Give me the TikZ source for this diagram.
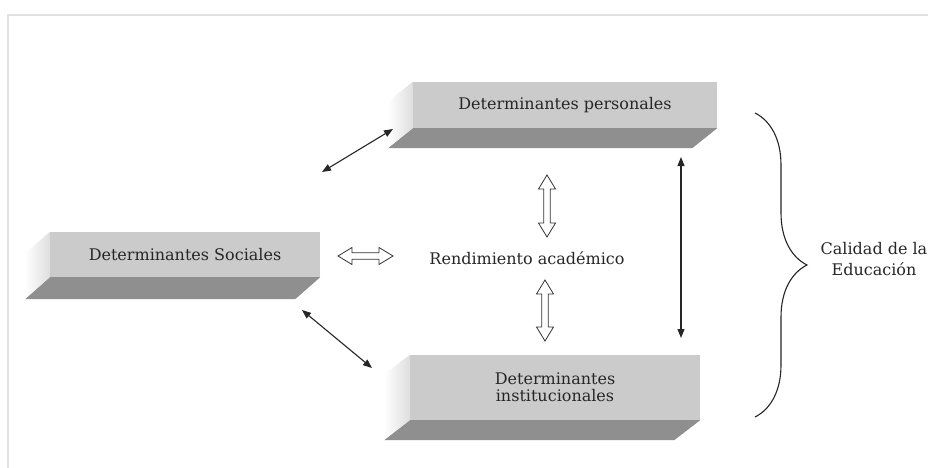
\documentclass[tikz,border=0pt]{standalone}
\usepackage{fontspec}
\setmainfont{DejaVu Serif}
\usetikzlibrary{calc,arrows.meta,decorations.pathreplacing}
\definecolor{txt}{HTML}{262626}
\definecolor{frontc}{HTML}{CBCBCB}
\definecolor{bottomc}{HTML}{8F8F8F}
\definecolor{framec}{HTML}{E2E2E2}
\newcommand\drawslab[3]{%
  \fill[bottomc] (#1.south west) -- (#1.south east) -- ++(#2,#3) -- ($(#1.south west)+(#2,#3)$) -- cycle;
  \shade[left color=white, right color=black!13] (#1.north west) -- (#1.south west) -- ++(#2,#3) -- ($(#1.north west)+(#2,#3)$) -- cycle;
}
\begin{document}
\begin{tikzpicture}[x=1pt,y=-1pt,
  face/.style={fill=frontc, draw=none, inner sep=0pt, text=txt, align=center,
    font=\fontsize{16}{17}\selectfont},
  lbl/.style={text=txt, inner sep=0pt, align=center, font=\fontsize{16}{21}\selectfont},
  blk/.style={draw=black!85, line width=1.1pt,
    {Triangle[length=9pt,width=7pt]}-{Triangle[length=9pt,width=7pt]}},
  hollow/.style={draw=black!80, fill=white, line width=0.8pt, line join=miter,
    to path={(\tikztostart)
      -- ($(\tikztostart)!14pt!(\tikztotarget)!8.5pt!90:(\tikztotarget)$)
      -- ($(\tikztostart)!14pt!(\tikztotarget)!3.2pt!90:(\tikztotarget)$)
      -- ($(\tikztotarget)!14pt!(\tikztostart)!3.2pt!-90:(\tikztostart)$)
      -- ($(\tikztotarget)!14pt!(\tikztostart)!8.5pt!-90:(\tikztostart)$)
      -- (\tikztotarget)
      -- ($(\tikztotarget)!14pt!(\tikztostart)!8.5pt!90:(\tikztostart)$)
      -- ($(\tikztotarget)!14pt!(\tikztostart)!3.2pt!90:(\tikztostart)$)
      -- ($(\tikztostart)!14pt!(\tikztotarget)!3.2pt!-90:(\tikztotarget)$)
      -- ($(\tikztostart)!14pt!(\tikztotarget)!8.5pt!-90:(\tikztotarget)$)
      -- cycle}},
  bracestyle/.style={draw=black!85, line width=1.1pt, decorate,
    decoration={brace, amplitude=52pt, aspect=0.5}}
]
\useasboundingbox (0,0) rectangle (928,468);
\fill[white] (0,0) rectangle (928,468);
% faint frame
\coordinate (f1) at (8,468);
\coordinate (f2) at (8,15);
\coordinate (f3) at (928,15);
\draw[framec, line width=1.5pt] (f1) -- (f2) -- (f3);

% boxes
\node[face, minimum width=304pt, minimum height=46pt] (pers) at (565,105) {Determinantes personales};
\drawslab{pers}{-25}{20}
\node[face, minimum width=270pt, minimum height=45pt] (soc) at (185,254.5) {Determinantes Sociales};
\drawslab{soc}{-25}{22}
\node[face, minimum width=290pt, minimum height=65pt] (inst) at (555,387.5) {Determinantes\\institucionales};
\drawslab{inst}{-26}{20}

% central label
\node[lbl] (rend) at (527,258) {Rendimiento académico};

% hollow double arrows
\coordinate (h1a) at (338,256);
\coordinate (h1b) at (393,256);
\coordinate (h2a) at (547,175);
\coordinate (h2b) at (547,237);
\coordinate (h3a) at (545,280);
\coordinate (h3b) at (545,341);
\path[hollow] (h1a) to (h1b);
\path[hollow] (h2a) to (h2b);
\path[hollow] (h3a) to (h3b);

% black double arrows
\coordinate (b1a) at (322,172);
\coordinate (b1b) at (393,129);
\coordinate (b2a) at (302,310);
\coordinate (b2b) at (372,368);
\coordinate (b3a) at (681,157);
\coordinate (b3b) at (681,338);
\draw[blk] (b1a) -- (b1b);
\draw[blk] (b2a) -- (b2b);
\draw[blk] (b3a) -- (b3b);

% brace
\coordinate (br1) at (755,113);
\coordinate (br2) at (755,417);
\draw[bracestyle] (br1) -- (br2);
\node[lbl] (cal) at (874,259) {Calidad de la\\Educación};
\end{tikzpicture}
\end{document}
